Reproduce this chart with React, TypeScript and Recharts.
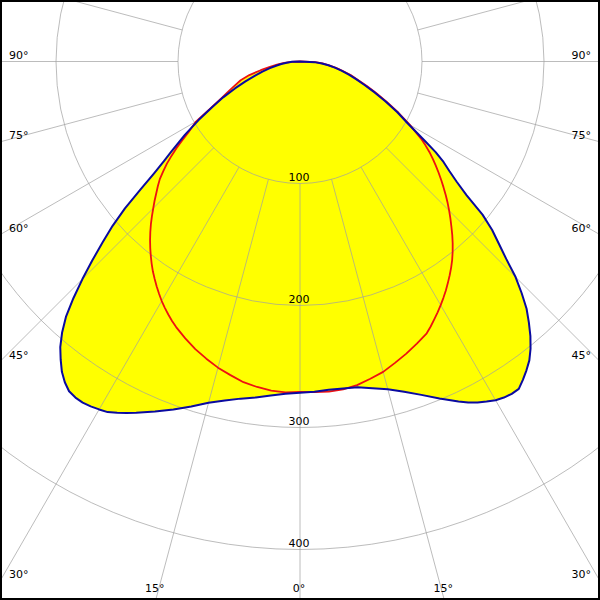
import React from 'react';
import { RadarChart, Radar, PolarGrid, PolarAngleAxis, PolarRadiusAxis } from 'recharts';

// gamma angle (0 = straight down, positive = right side), degrees
const gammaAngles = [
  -90, -87.5, -85, -82.5, -80, -77.5, -75, -72.5, -70, -67.5, -65, -62.5, -60,
  -57.5, -56.25, -55, -53.75, -52.5, -51.25, -50, -48.75, -47.5, -46.25, -45, -43.75, -42.5, -41.25, -40,
  -38.75, -37.5, -36.25, -35, -33.75, -32.5, -31.25, -30, -28.75, -27.5, -26.25, -25,
  -22.5, -20, -17.5, -15, -12.5, -10, -7.5, -5, -2.5, 0, 2.5, 5, 7.5, 10, 12.5, 15, 17.5, 20, 22.5,
  25, 26.25, 27.5, 28.75, 30, 31.25, 32.5, 33.75, 35, 36.25, 37.5, 38.75, 40, 41.25, 42.5,
  43.75, 45, 46.25, 47.5, 48.75, 50, 51.25, 52.5, 53.75, 55, 56.25, 57.5,
  60, 62.5, 65, 67.5, 70, 72.5, 75, 77.5, 80, 82.5, 85, 87.5, 90,
];

// C0-C180 plane (blue)
const blueValues = [
  0, 6.5, 11, 15.5, 19.9, 25.3, 31.9, 38.6, 47.6, 57.7, 69.5, 81.5, 96,
  111.9, 119.5, 128.8, 138.5, 151.2, 168, 187.3, 204.3, 219.4, 235.6, 252.2, 268.6, 284, 295.8, 305.7,
  313.4, 320.6, 326, 330, 331.3, 331.5, 330.7, 329.3, 327.8, 324.5, 321.2, 317.7,
  310.6, 303.5, 296.5, 289.6, 284.6, 280.6, 277.7, 274.9, 272.6, 271.6, 270.9, 270, 270.4, 271.2, 274.3, 278.1, 283.9, 290.8, 298.9,
  307.4, 311.7, 315.2, 317.9, 320.6, 322.2, 323, 322.8, 318.5, 313.9, 308.8, 301.9, 293.8, 284.5, 274.9,
  262.7, 249.9, 234, 221.1, 209.5, 195.3, 175.2, 161.9, 151.8, 143.6, 133.7, 121.7,
  102.5, 90, 77.2, 66.2, 56.3, 48.2, 41.5, 34.8, 29, 23.5, 18, 12, 0,
];

// C90-C270 plane (red)
const redValues = [
  0, 7, 13, 19, 25, 33, 43, 51, 56.5, 63, 71, 82, 98.5,
  108.7, 116, 123.5, 130.5, 137.5, 143.8, 150, 155, 159.8, 165, 170.1, 175.5, 180.9, 186.1, 191.2,
  196.1, 200.9, 205.6, 210.2, 214.4, 218.6, 222.7, 226.7, 230.3, 233.8, 237.1, 240.2,
  245.7, 250.9, 255.4, 259.8, 263.3, 266.9, 269.1, 270.8, 271.5, 270.8, 271.2, 271.7, 271, 269.4, 266.4, 263.4, 259, 254.8, 250.3,
  245.8, 242.2, 238.3, 234.5, 230.6, 226.6, 222.5, 218.2, 213.9, 209.5, 204.9, 199.9, 194.7, 189.3, 183.7,
  178.3, 172.9, 167.5, 162, 156.5, 151.1, 145.7, 140.3, 135, 129.6, 123.7, 117.6,
  104, 91, 78.5, 67.5, 58, 49.5, 43, 36, 30, 24, 18.5, 12.5, 0,
];

const gridAngles = [
  -165, -150, -135, -120, -105, -90, -75, -60, -45, -30, -15, 0,
  15, 30, 45, 60, 75, 90, 105, 120, 135, 150, 165, 180,
];
const radiusTicks = [100, 200, 300, 400];
const radiusDomain = [100, 510];

const rows = gammaAngles.map((g, i) => ({ angle: g, blue: blueValues[i], red: redValues[i] }));

const W = 600;
const H = 600;
const CX = 300;
const CY = 61.5;
const FONT = '"DejaVu Sans", Verdana, sans-serif';
const FONT_SIZE = 11;

function AngleTick(props: any) {
  const { x, y, payload } = props;
  const cx = typeof props.cx === 'number' ? props.cx : CX;
  const cy = typeof props.cy === 'number' ? props.cy : CY;
  const g = payload.value;
  if (Math.abs(g) > 90) return <g />;
  const dx = x - cx;
  const dy = y - cy;
  const eps = 1e-6;
  const tL = dx < -eps ? (0 - cx) / dx : Infinity;
  const tR = dx > eps ? (W - cx) / dx : Infinity;
  const tB = dy > eps ? (H - cy) / dy : Infinity;
  const label = `${Math.abs(g)}°`;
  const common = { fontFamily: FONT, fontSize: FONT_SIZE, fill: '#000' } as const;
  if (tB < tL && tB < tR) {
    const hx = cx + dx * tB;
    return (
      <text x={hx - 1} y={592} textAnchor="middle" {...common}>
        {label}
      </text>
    );
  }
  if (tL <= tR) {
    const hy = cy + dy * tL;
    return (
      <text x={9} y={hy - 3} textAnchor="start" {...common}>
        {label}
      </text>
    );
  }
  const hy = cy + dy * tR;
  return (
    <text x={591} y={hy - 3} textAnchor="end" {...common}>
      {label}
    </text>
  );
}

function RadiusTick(props: any) {
  const { x, y, payload } = props;
  return (
    <text x={x - 1} y={y - 2.5} textAnchor="middle" fontFamily={FONT} fontSize={FONT_SIZE} fill="#000">
      {payload.value}
    </text>
  );
}

export default function App() {
  return (
    <div style={{ position: 'absolute', left: 0, top: 0, width: W, height: H, background: '#fff' }}>
      <RadarChart
        width={W}
        height={H}
        data={rows}
        cx={CX}
        cy={CY}
        innerRadius={122}
        outerRadius={622.2}
        startAngle={-270}
        endAngle={90}
        margin={{ top: 0, right: 0, bottom: 0, left: 0 }}
      >
        <Radar
          dataKey="blue"
          fill="#ffff00"
          fillOpacity={1}
          stroke="none"
          dot={false}
          activeDot={false}
          isAnimationActive={false}
          zIndex={-200}
        />
        <Radar
          dataKey="red"
          fill="#ffff00"
          fillOpacity={1}
          stroke="none"
          dot={false}
          activeDot={false}
          isAnimationActive={false}
          zIndex={-200}
        />
        <PolarGrid gridType="circle" stroke="#a0a0a0" strokeOpacity={0.7} strokeWidth={1} zIndex={-100} />
        <PolarAngleAxis
          type="number"
          dataKey="angle"
          domain={[-180, 180]}
          ticks={gridAngles}
          axisLine={false}
          tickLine={false}
          tick={AngleTick}
        />
        <PolarRadiusAxis
          angle={-90}
          type="number"
          domain={radiusDomain}
          allowDataOverflow
          ticks={radiusTicks}
          axisLine={false}
          tickLine={false}
          tick={RadiusTick}
        />
        <Radar
          dataKey="red"
          fill="none"
          stroke="#ee1111"
          strokeWidth={1.8}
          strokeLinejoin="round"
          dot={false}
          activeDot={false}
          isAnimationActive={false}
        />
        <Radar
          dataKey="blue"
          fill="none"
          stroke="#0a0aa0"
          strokeWidth={2}
          strokeLinejoin="round"
          dot={false}
          activeDot={false}
          isAnimationActive={false}
        />
      </RadarChart>
      <div
        style={{
          position: 'absolute',
          left: 0,
          top: 0,
          width: W,
          height: H,
          boxSizing: 'border-box',
          border: '2px solid #000',
          pointerEvents: 'none',
        }}
      />
    </div>
  );
}
